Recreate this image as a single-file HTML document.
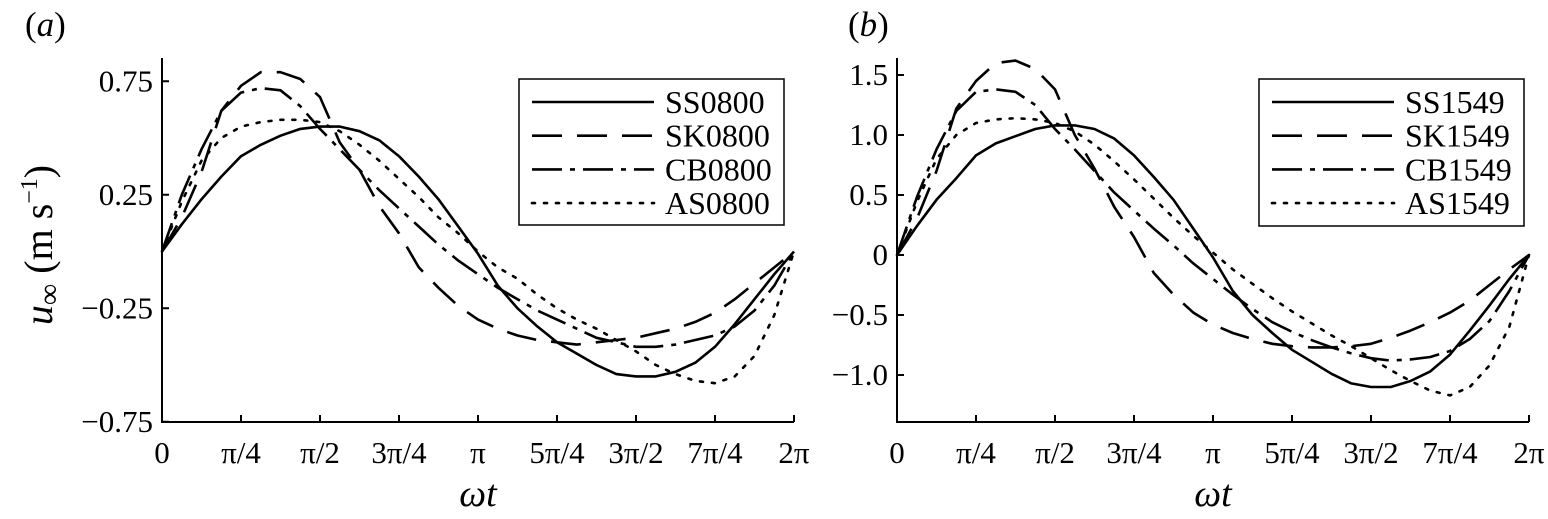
<!DOCTYPE html>
<html><head><meta charset="utf-8"><style>
html,body{margin:0;padding:0;background:#fff;}
svg{display:block;font-family:"Liberation Serif","DejaVu Serif",serif;}
</style></head><body>
<svg id="chart" width="1548" height="519" viewBox="0 0 1548 519" xmlns="http://www.w3.org/2000/svg"></svg>
<script>
const xTickLabels = ["0","π/4","π/2","3π/4","π","5π/4","3π/2","7π/4","2π"];
const phaseSteps = 32; // samples at k·π/16
const aYTicks = [0.75, 0.25, -0.25, -0.75];
const aYTickLabels = ["0.75","0.25","\u22120.25","\u22120.75"];
const bYTicks = [1.5, 1.0, 0.5, 0, -0.5, -1.0];
const bYTickLabels = ["1.5","1.0","0.5","0","\u22120.5","\u22121.0"];
const aNames = ["SS0800","SK0800","CB0800","AS0800"];
const bNames = ["SS1549","SK1549","CB1549","AS1549"];
const aSS = [0,0.12,0.23,0.33,0.42,0.47,0.51,0.54,0.55,0.55,0.53,0.49,0.42,0.33,0.23,0.11,-0.01,-0.15,-0.25,-0.33,-0.40,-0.45,-0.50,-0.54,-0.55,-0.55,-0.53,-0.49,-0.42,-0.32,-0.21,-0.10,0];
const aSK = [0,0.15,0.35,0.62,0.73,0.79,0.79,0.76,0.68,0.48,0.36,0.20,0.08,-0.07,-0.16,-0.24,-0.30,-0.34,-0.37,-0.39,-0.40,-0.41,-0.40,-0.39,-0.38,-0.36,-0.34,-0.31,-0.27,-0.21,-0.14,-0.07,0];
const aCB = [0,0.25,0.45,0.62,0.70,0.72,0.71,0.64,0.54,0.45,0.36,0.27,0.19,0.11,0.03,-0.04,-0.10,-0.16,-0.21,-0.26,-0.30,-0.34,-0.38,-0.40,-0.42,-0.42,-0.41,-0.39,-0.37,-0.33,-0.26,-0.15,0];
const aAS = [0,0.22,0.40,0.50,0.55,0.57,0.58,0.58,0.57,0.53,0.47,0.40,0.32,0.24,0.15,0.08,0.00,-0.07,-0.12,-0.19,-0.25,-0.30,-0.34,-0.39,-0.44,-0.50,-0.54,-0.57,-0.58,-0.55,-0.46,-0.28,0];
const bSS = [0,0.24,0.46,0.64,0.83,0.93,0.99,1.05,1.08,1.08,1.05,0.97,0.83,0.65,0.46,0.22,-0.02,-0.30,-0.50,-0.65,-0.79,-0.89,-0.99,-1.07,-1.10,-1.10,-1.05,-0.97,-0.83,-0.63,-0.42,-0.20,0];
const bSK = [0,0.30,0.70,1.22,1.45,1.60,1.62,1.55,1.38,1.00,0.72,0.40,0.15,-0.15,-0.33,-0.48,-0.58,-0.65,-0.70,-0.74,-0.76,-0.77,-0.77,-0.76,-0.74,-0.69,-0.63,-0.56,-0.48,-0.38,-0.25,-0.12,0];
const bCB = [0,0.48,0.88,1.20,1.36,1.38,1.36,1.25,1.05,0.88,0.70,0.52,0.37,0.22,0.08,-0.07,-0.20,-0.33,-0.45,-0.56,-0.64,-0.71,-0.77,-0.82,-0.86,-0.88,-0.87,-0.85,-0.80,-0.70,-0.55,-0.30,0];
const bAS = [0,0.44,0.80,1.00,1.10,1.13,1.14,1.13,1.10,1.03,0.92,0.78,0.63,0.47,0.31,0.16,0.02,-0.12,-0.24,-0.36,-0.47,-0.57,-0.67,-0.76,-0.86,-0.96,-1.05,-1.13,-1.17,-1.10,-0.92,-0.60,0];

const NS = "http://www.w3.org/2000/svg";
const svg = document.getElementById('chart');
const dashes = ["", "30 15", "30 8 5 8", "3 9"];
const caps = ["butt","butt","butt","round"];
function mk(tag, attrs, parent){ const e=document.createElementNS(NS,tag); for(const k in attrs) e.setAttribute(k,attrs[k]); (parent||svg).appendChild(e); return e; }

function panel(cfg){
  const g = mk('g',{});
  
  
  const x0=cfg.left, x1=cfg.left+632, yTop=58, yBot=422;
  const X = t => x0 + (t/phaseSteps)*(x1-x0);
  const Y = v => cfg.y0 - (v - cfg.vRef)*cfg.k;
  const ax = mk('path',{d:`M${x0},${yTop}V${yBot}H${x1}`,fill:'none',stroke:'#000','stroke-width':2},g);
  
  
  xTickLabels.forEach((lab,i)=>{
    const x = X(i*4);
    mk('line',{x1:x,x2:x,y1:yBot,y2:yBot-7,stroke:'#000','stroke-width':2},g);
    const t = mk('text',{x:x,y:463,'font-size':31,'text-anchor':'middle'},g);
    t.textContent = lab;
    
    
  });
  cfg.yTicks.forEach((v,i)=>{
    const y = Y(v);
    mk('line',{x1:x0,x2:x0+7,y1:y,y2:y,stroke:'#000','stroke-width':2},g);
    const t = mk('text',{x:x0-9,y:y+10,'font-size':31,'text-anchor':'end'},g);
    t.textContent = cfg.yLabels[i];
    
    
  });
  const xl = mk('text',{x:x0+316,y:506,'font-size':38,'font-style':'italic','text-anchor':'middle'},g);
  xl.textContent = 'ωt';
  
  
  const pl = mk('text',{x:cfg.left-137+cfg.plx,y:36,'font-size':35},g);
  pl.innerHTML = '(<tspan font-style="italic">'+cfg.id+'</tspan>)';
  
  
  cfg.series.forEach((arr,s)=>{
    const d = arr.map((v,i)=>(i?'L':'M')+X(i).toFixed(1)+','+Y(v).toFixed(1)).join('');
    const p = mk('path',{d:d,fill:'none',stroke:'#000','stroke-width':2.6,'stroke-dasharray':dashes[s],'stroke-linecap':caps[s],'stroke-linejoin':'round'},g);
    
    
  });
  const L = cfg.legend;
  const lg = mk('g',{},g);
  
  
  mk('rect',{x:L.x,y:L.y,width:L.w,height:L.h,fill:'#fff',stroke:'#000','stroke-width':1.5},lg);
  cfg.names.forEach((n,s)=>{
    const yy = L.y+23+s*33.7;
    const e = mk('g',{},lg);
    
    
    mk('line',{x1:L.x+13,x2:L.x+135,y1:yy,y2:yy,stroke:'#000','stroke-width':2.6,'stroke-dasharray':dashes[s],'stroke-linecap':caps[s]},e);
    const t = mk('text',{x:L.x+146,y:yy+11,'font-size':32},e);
    t.textContent = n;
  });
}
panel({id:'a',left:162,y0:251.5,vRef:0,k:227,yTicks:aYTicks,yLabels:aYTickLabels,names:aNames,series:[aSS,aSK,aCB,aAS],legend:{x:519,y:79,w:265,h:146},plx:0});
panel({id:'b',left:897,y0:255,vRef:0,k:120,yTicks:bYTicks,yLabels:bYTickLabels,names:bNames,series:[bSS,bSK,bCB,bAS],legend:{x:1259,y:79,w:265,h:147},plx:88});
// y-axis title (panel a)
const yt = mk('text',{x:0,y:0,'font-size':40,'text-anchor':'middle',transform:'translate(52,245) rotate(-90)'});
yt.innerHTML = '<tspan font-style="italic">u</tspan><tspan font-size="30" dy="7">∞</tspan><tspan dy="-7"> (m s</tspan><tspan font-size="24" dy="-15">−1</tspan><tspan dy="15">)</tspan>';


</script>
</body></html>
